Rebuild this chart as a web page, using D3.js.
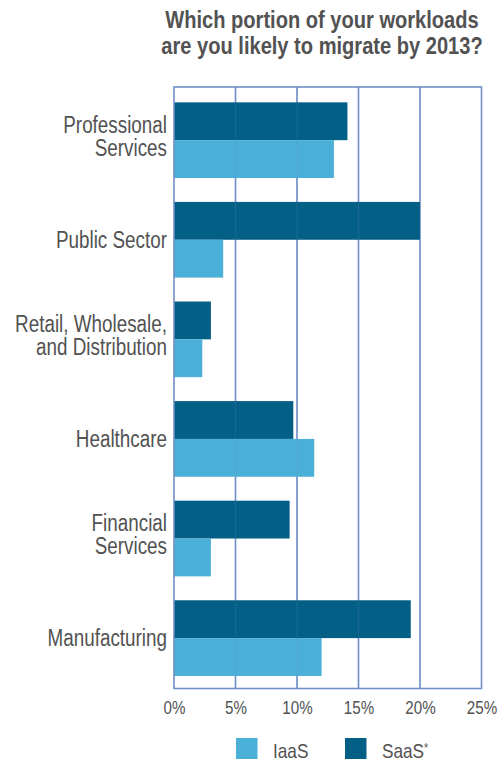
<!DOCTYPE html>
<html>
<head>
<meta charset="utf-8">
<script src="https://cdn.jsdelivr.net/npm/d3@7"></script>
<style>
  html, body { margin: 0; padding: 0; background: #ffffff; }
  svg { display: block; }
  text { font-family: "Liberation Sans", Arial, Helvetica, sans-serif; }
</style>
</head>
<body>
<svg id="chart" width="501" height="761"></svg>
<script>
const titleLines = ["Which portion of your workloads", "are you likely to migrate by 2013?"];
const categories = ["Professional Services", "Public Sector", "Retail, Wholesale, and Distribution", "Healthcare", "Financial Services", "Manufacturing"];
const categoryLines = [["Professional", "Services"], ["Public Sector"], ["Retail, Wholesale,", "and Distribution"], ["Healthcare"], ["Financial", "Services"], ["Manufacturing"]];
const seriesNames = ["SaaS*", "IaaS"];
const saasValues = [14.1, 20.0, 3.0, 9.7, 9.4, 19.25];
const iaasValues = [13.0, 4.0, 2.3, 11.4, 3.0, 12.0];
const xTicks = [0, 5, 10, 15, 20, 25];
const legendNames = ["IaaS", "SaaS*"];

const colors = { "SaaS*": "#045f86", "IaaS": "#4ab0d7" };
const gridColor = "#6f8fc6";
const textColor = "#525252";
const narrow = 0.82;

const svg = d3.select("#chart");
const plotLeft = 174, plotRight = 481.5, plotTop = 87, plotBottom = 688.5;

const x = d3.scaleLinear().domain([0, 25]).range([plotLeft, plotRight]);
const y = d3.scaleBand().domain(categories).range([plotTop, plotBottom])
  .paddingInner(0.24).paddingOuter(0.14).align(0.55);
const ySub = d3.scaleBand().domain(seriesNames).range([0, y.bandwidth()]);

const data = categories.map((c, i) => ({ cat: c, vals: [
  { s: "SaaS*", v: saasValues[i] }, { s: "IaaS", v: iaasValues[i] } ] }));

// Title
svg.append("g").selectAll("text").data(titleLines).join("text")
  .attr("transform", (d, i) => `translate(322,${28 + i * 25.5}) scale(${narrow},1)`)
  .attr("text-anchor", "middle")
  .attr("font-size", 24.5).attr("font-weight", "bold")
  .attr("fill", textColor)
  .text(d => d);

// gridlines (behind)
svg.append("g").selectAll("line").data(xTicks.slice(1, -1)).join("line")
  .attr("x1", d => x(d)).attr("x2", d => x(d))
  .attr("y1", plotTop).attr("y2", plotBottom)
  .attr("stroke", gridColor).attr("stroke-width", 1.6);

// bars
const groups = svg.append("g").selectAll("g").data(data).join("g")
  .attr("transform", d => `translate(0,${y(d.cat)})`);
groups.selectAll("rect").data(d => d.vals).join("rect")
  .attr("x", x(0)).attr("y", d => ySub(d.s))
  .attr("width", d => x(d.v) - x(0))
  .attr("height", ySub.bandwidth())
  .attr("fill", d => colors[d.s]);

// faint gridlines over bars
svg.append("g").selectAll("line").data(xTicks.slice(1, -1)).join("line")
  .attr("x1", d => x(d)).attr("x2", d => x(d))
  .attr("y1", plotTop).attr("y2", plotBottom)
  .attr("stroke", gridColor).attr("stroke-width", 1.2).attr("opacity", 0.18);

// frame
svg.append("rect")
  .attr("x", plotLeft).attr("y", plotTop)
  .attr("width", plotRight - plotLeft).attr("height", plotBottom - plotTop)
  .attr("fill", "none").attr("stroke", gridColor).attr("stroke-width", 1.6);

// x axis labels
const xAxis = d3.axisBottom(x).tickValues(xTicks).tickSize(0).tickPadding(12)
  .tickFormat(d => d + "%");
const ax = svg.append("g").attr("transform", `translate(0,${plotBottom})`).call(xAxis);
ax.attr("font-family", null).attr("font-size", null);
ax.select(".domain").remove();
ax.selectAll("text")
  .attr("transform", `scale(${narrow},1)`)
  .attr("font-size", 18.5).attr("fill", textColor);

// category labels
svg.append("g").selectAll("g").data(data).join("g")
  .each(function(d, i) {
    const lines = categoryLines[i];
    const cy = y(d.cat) + y.bandwidth() / 2;
    const lh = 23;
    const startY = cy - (lines.length - 1) * lh / 2 + 8 - (lines.length > 1 ? 4 : 0);
    d3.select(this).selectAll("text").data(lines).join("text")
      .attr("transform", (l, j) => `translate(167,${startY + j * lh}) scale(${narrow},1)`)
      .attr("text-anchor", "end")
      .attr("font-size", 23).attr("fill", textColor)
      .text(l => l);
  });

// legend
const legendX = [236, 345];
const lg = svg.append("g").selectAll("g").data(legendNames).join("g")
  .attr("transform", (d, i) => `translate(${legendX[i]},738)`);
lg.append("rect").attr("width", 21.5).attr("height", 21)
  .attr("fill", d => colors[d]);
lg.append("text")
  .attr("transform", `translate(37,20) scale(${narrow},1)`)
  .attr("font-size", 21).attr("fill", textColor)
  .each(function(d) {
    const t = d3.select(this);
    const base = d.replace("*", "");
    t.append("tspan").text(base);
    if (d.endsWith("*")) {
      t.append("tspan").attr("font-size", 13).attr("dy", -6).text("*");
    }
  });
</script>
</body>
</html>
